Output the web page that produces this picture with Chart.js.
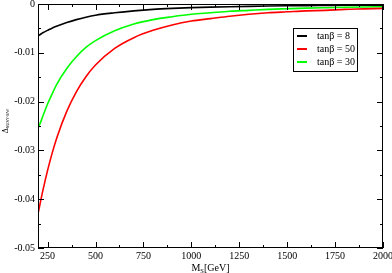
<!DOCTYPE html>
<html>
<head>
<meta charset="utf-8">
<script src="https://cdn.jsdelivr.net/npm/chart.js@4"></script>
<style>
  html, body { margin: 0; padding: 0; background: #fff; }
  #wrap { width: 392px; height: 273px; }
</style>
</head>
<body>
<div id="wrap"><canvas id="chart"></canvas></div>
<script>
// M_S values [GeV]
const masses = [200, 210, 225, 250, 275, 300, 350, 400, 450, 500, 600, 700, 800, 900, 1000,
  1100, 1200, 1300, 1400, 1500, 1600, 1700, 1800, 1900, 2000];

// Delta_SUSY-EW per tan(beta)
const tanb8 = [-0.0065, -0.0063, -0.0059, -0.0054, -0.0049, -0.0045, -0.0038, -0.0032, -0.0027, -0.0023,
  -0.0018, -0.0014, -0.0011, -0.0009, -0.00075, -0.00064, -0.00055, -0.00048, -0.00042, -0.00037,
  -0.00033, -0.0003, -0.00027, -0.00025, -0.00023];
const tanb50 = [-0.0430, -0.0411, -0.0383, -0.0341, -0.0304, -0.0272, -0.0220, -0.0180, -0.0149, -0.0125,
  -0.0091, -0.0069, -0.0054, -0.0043, -0.0035, -0.0030, -0.0025, -0.0021, -0.0018, -0.0016,
  -0.0014, -0.0013, -0.0011, -0.0010, -0.0009];
const tanb30 = [-0.0255, -0.0246, -0.0230, -0.0205, -0.0183, -0.0163, -0.0132, -0.0108, -0.0089, -0.0075,
  -0.0055, -0.0041, -0.0032, -0.0026, -0.0021, -0.0018, -0.0015, -0.0013, -0.0011, -0.00097,
  -0.00085, -0.00076, -0.00068, -0.00061, -0.00055];

const seriesLabels = ['tanβ = 8', 'tanβ = 50', 'tanβ = 30'];
const seriesColors = ['#000000', '#ff0000', '#00ff00'];

const xMajor = [250, 500, 750, 1000, 1250, 1500, 1750, 2000];
const xMinor = [375, 625, 875, 1125, 1375, 1625, 1875];
const yMajor = [-0.05, -0.04, -0.03, -0.02, -0.01, 0];
const yMinor = [-0.045, -0.035, -0.025, -0.015, -0.005];

const FONT = 'Liberation Serif';

const toPoints = vals => vals.map((v, i) => ({ x: masses[i], y: v }));

// frame, inward ticks, axis titles and the boxed legend
const framePlugin = {
  id: 'frame',
  afterDraw(chart) {
    const { ctx, chartArea: a, scales } = chart;
    const xs = scales.x, ys = scales.y;
    ctx.save();
    ctx.strokeStyle = '#000';
    ctx.lineWidth = 1;
    ctx.strokeRect(a.left + 0.5, a.top + 0.5, a.right - a.left - 1, a.bottom - a.top - 1);

    ctx.beginPath();
    const xt = (vals, len) => vals.forEach(v => {
      const px = Math.round(xs.getPixelForValue(v)) + 0.5;
      ctx.moveTo(px, a.bottom); ctx.lineTo(px, a.bottom - len);
      ctx.moveTo(px, a.top); ctx.lineTo(px, a.top + len);
    });
    const yt = (vals, len) => vals.forEach(v => {
      const py = Math.round(ys.getPixelForValue(v)) + 0.5;
      ctx.moveTo(a.left, py); ctx.lineTo(a.left + len, py);
      ctx.moveTo(a.right, py); ctx.lineTo(a.right - len, py);
    });
    xt(xMajor, 6); xt(xMinor, 3);
    yt(yMajor, 6); yt(yMinor, 3);
    ctx.stroke();

    // x title
    ctx.fillStyle = '#000';
    ctx.textBaseline = 'alphabetic';
    ctx.font = `10px "${FONT}"`;
    const wM = ctx.measureText('M').width;
    ctx.font = `6.5px "${FONT}"`;
    const wS = ctx.measureText('S').width;
    ctx.font = `10px "${FONT}"`;
    const wG = ctx.measureText('[GeV]').width;
    let x0 = (a.left + a.right) / 2 - (wM + wS + wG) / 2;
    ctx.textAlign = 'left';
    ctx.fillText('M', x0, 271);
    ctx.font = `6.5px "${FONT}"`;
    ctx.fillText('S', x0 + wM, 272.5);
    ctx.font = `10px "${FONT}"`;
    ctx.fillText('[GeV]', x0 + wM + wS, 271);

    // y title
    ctx.save();
    ctx.font = `8px "${FONT}"`;
    const wD = ctx.measureText('Δ').width;
    ctx.font = `4.5px "${FONT}"`;
    const wSub = ctx.measureText('SUSY-EW').width;
    ctx.translate(7.5, 121 + (wD + wSub) / 2);
    ctx.rotate(-Math.PI / 2);
    ctx.font = `8px "${FONT}"`;
    ctx.fillText('Δ', 0, 0);
    ctx.font = `4.5px "${FONT}"`;
    ctx.fillText('SUSY-EW', wD, 1);
    ctx.restore();

    // legend box
    const bx = 293, by = 28, bw = 64, bh = 43;
    ctx.fillStyle = '#fff';
    ctx.fillRect(bx, by, bw, bh);
    ctx.strokeStyle = '#000';
    ctx.lineWidth = 1;
    ctx.strokeRect(bx + 0.5, by + 0.5, bw, bh);
    chart.data.datasets.forEach((ds, i) => {
      const yy = 36 + i * 13;
      ctx.strokeStyle = ds.borderColor;
      ctx.lineWidth = 2;
      ctx.beginPath();
      ctx.moveTo(297, yy); ctx.lineTo(307, yy);
      ctx.stroke();
      ctx.fillStyle = '#000';
      ctx.font = `10px "${FONT}"`;
      ctx.textBaseline = 'middle';
      ctx.fillText(ds.label, 317, yy + 0.5);
    });
    ctx.restore();
  }
};

new Chart(document.getElementById('chart'), {
  type: 'line',
  data: {
    datasets: [tanb8, tanb50, tanb30].map((vals, i) => ({
      label: seriesLabels[i],
      data: toPoints(vals),
      borderColor: seriesColors[i],
      backgroundColor: seriesColors[i],
      borderWidth: 1.6,
      pointRadius: 0,
      fill: false,
      cubicInterpolationMode: 'monotone',
    })),
  },
  options: {
    responsive: true,
    maintainAspectRatio: false,
    animation: false,
    layout: { padding: { top: 4, right: 9, left: 0, bottom: 0 } },
    plugins: { legend: { display: false }, tooltip: { enabled: false } },
    scales: {
      x: {
        type: 'linear',
        min: 200,
        max: 2000,
        grid: { display: false, drawTicks: false },
        border: { display: false },
        afterBuildTicks: s => { s.ticks = xMajor.map(v => ({ value: v })); },
        afterFit: s => { s.height = 25; s.paddingLeft = 0; s.paddingRight = 0; },
        ticks: {
          color: '#000',
          font: { family: FONT, size: 10 },
          padding: 2,
          maxRotation: 0,
          autoSkip: false,
          callback: v => String(v),
        },
      },
      y: {
        min: -0.05,
        max: 0,
        grid: { display: false, drawTicks: false },
        border: { display: false },
        afterBuildTicks: s => { s.ticks = yMajor.map(v => ({ value: v })); },
        afterFit: s => { s.width = 38; s.paddingTop = 0; s.paddingBottom = 0; },
        ticks: {
          color: '#000',
          font: { family: FONT, size: 10 },
          padding: 3,
          autoSkip: false,
          callback: v => (v === 0 ? '0' : String(Math.round(v * 100) / 100)),
        },
      },
    },
  },
  plugins: [framePlugin],
});
</script>
</body>
</html>
